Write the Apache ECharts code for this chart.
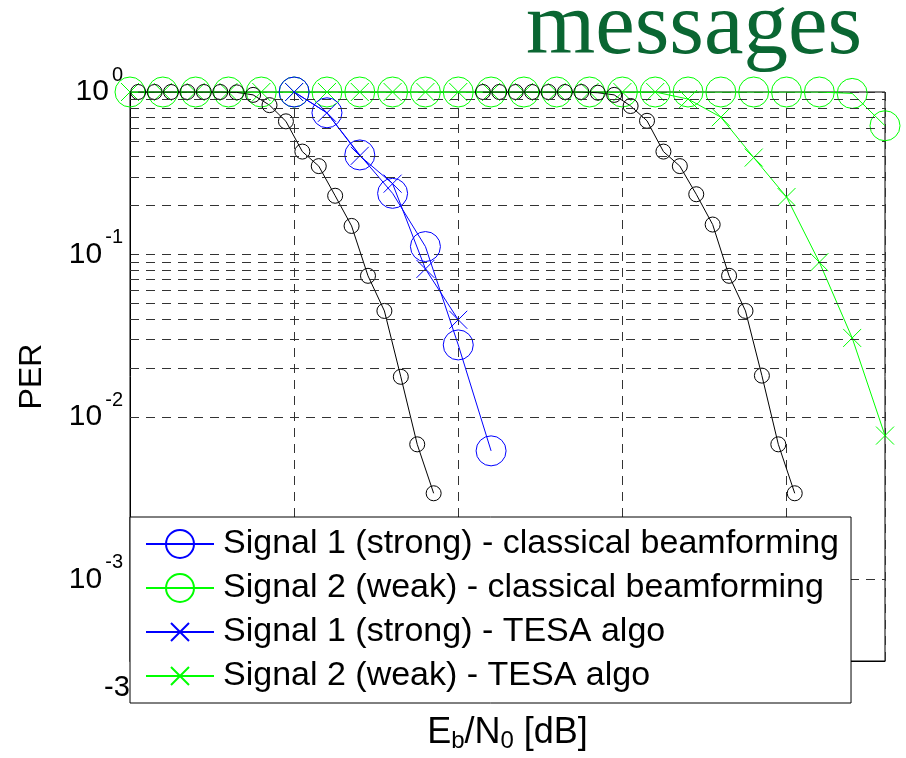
<!DOCTYPE html>
<html>
<head>
<meta charset="utf-8">
<script src="https://cdn.jsdelivr.net/npm/echarts@6/dist/echarts.min.js"></script>
<style>
html, body { margin: 0; padding: 0; background: #fff; }
#chart1 { width: 906px; height: 758px; }
</style>
</head>
<body>
<div id="chart1"></div>
<script>
// Eb/N0 [dB] for the simulated curves (1 dB step)
var ebnoSig1 = [-25, -24, -23, -22, -21, -20, -19];
var ebnoSig1Tesa = [-25, -24, -23, -22, -21, -20];
var ebnoSig2 = [-30, -29, -28, -27, -26, -25, -24, -23, -22, -21, -20, -19,
                -18, -17, -16, -15, -14, -13, -12, -11, -10, -9, -8, -7];

// black reference curves (0.5 dB step)
var ebnoRef1 = [-29.75, -29.25, -28.75, -28.25, -27.75, -27.25, -26.75, -26.25, -25.75, -25.25,
                -24.75, -24.25, -23.75, -23.25, -22.75, -22.25, -21.75, -21.25, -20.75];
var ebnoRef2 = [-19.25, -18.75, -18.25, -17.75, -17.25, -16.75, -16.25, -15.75, -15.25, -14.75,
                -14.25, -13.75, -13.25, -12.75, -12.25, -11.75, -11.25, -10.75, -10.25, -9.75];

var perRef1 = [1, 1, 1, 1, 1, 1, 0.995, 0.96, 0.83, 0.66,
               0.43, 0.35, 0.23, 0.15, 0.074, 0.045, 0.0177, 0.0068, 0.0034];
var perRef2 = [1, 1, 1, 1, 1, 1, 1, 0.99, 0.96, 0.82,
               0.665, 0.43, 0.35, 0.235, 0.153, 0.074, 0.045, 0.018, 0.0068, 0.0034];

var perSig1Classic = [1, 0.745, 0.41, 0.238, 0.112, 0.0278, 0.0062];
var perSig1Tesa = [1, 0.745, 0.405, 0.273, 0.0816, 0.0397];
var perSig2Classic = [1, 1, 1, 1, 1, 1, 1, 1, 1, 1, 1, 1,
                      1, 1, 1, 1, 1, 1, 1, 1, 1, 1, 0.98, 0.62];
var perSig2Tesa = [1, 1, 1, 1, 1, 1, 1, 1, 1, 1, 1, 1,
                   1, 1, 1, 1, 1, 0.905, 0.70, 0.395, 0.226, 0.0897, 0.0307, 0.0077];

// log grid lines between decades
var yMinorGrid = [0.9, 0.8, 0.7, 0.6, 0.5, 0.4, 0.3, 0.2,
                  0.09, 0.08, 0.07, 0.06, 0.05, 0.04, 0.03, 0.02,
                  0.009, 0.008, 0.007, 0.006, 0.005, 0.004, 0.003, 0.002,
                  0.0009, 0.0008, 0.0007, 0.0006, 0.0005, 0.0004];

var legendNames = ['Signal 1 (strong) - classical beamforming',
                   'Signal 2 (weak) - classical beamforming',
                   'Signal 1 (strong) - TESA algo',
                   'Signal 2 (weak) - TESA algo'];

var BLUE = '#0000ff', GREEN = '#00ff00', BLACK = '#000000';
var CROSS = 'path://M0,0M28,28M5,5L23,23M23,5L5,23';
var FONT = 'Liberation Sans';
var GRIDSTYLE = { color: '#333', type: [9, 7], width: 1 };

function pairs(xs, ys) {
    var out = [];
    for (var i = 0; i < xs.length; i++) out.push([xs[i], ys[i]]);
    return out;
}

function lineSeries(name, xs, ys, color, symbol, size) {
    return {
        name: name,
        type: 'line',
        data: pairs(xs, ys),
        symbol: symbol,
        symbolSize: size,
        showAllSymbol: true,
        clip: true,
        lineStyle: { color: color, width: 1 },
        itemStyle: { color: 'transparent', borderColor: color, borderWidth: 1 },
        emphasis: { disabled: true },
        animation: false
    };
}

function gridLines() {
    var d = [];
    for (var i = 0; i < yMinorGrid.length; i++) d.push({ yAxis: yMinorGrid[i] });
    return d;
}

function getChart() {
    var refSeries = lineSeries('ref1', ebnoRef1, perRef1, BLACK, 'circle', 15);
    refSeries.markLine = {
        silent: true,
        symbol: 'none',
        label: { show: false },
        lineStyle: GRIDSTYLE,
        data: gridLines(),
        animation: false
    };
    var option = {
        backgroundColor: '#fff',
        title: {
            text: 'messages',
            left: 526,
            top: -15,
            padding: 0,
            textStyle: { fontFamily: 'Liberation Serif', fontSize: 89, fontWeight: 'normal', color: '#0a6632' }
        },
        grid: {
            left: 130, right: 21, top: 92, bottom: 97,
            show: true, borderColor: '#000', borderWidth: 1, backgroundColor: 'transparent'
        },
        legend: {
            data: legendNames,
            orient: 'vertical',
            left: 130, top: 517,
            padding: [10, 12, 10, 15],
            itemWidth: 68, itemHeight: 35, itemGap: 10,
            backgroundColor: '#fff',
            borderColor: '#000', borderWidth: 1,
            selectedMode: false,
            textStyle: { fontFamily: FONT, fontSize: 34, color: '#000', padding: [0, 0, 0, 4] }
        },
        xAxis: {
            type: 'value',
            min: -30, max: -7, interval: 5,
            name: '{n|E}{s|b}{n|/N}{s|0}{n| [dB]}',
            nameLocation: 'middle',
            nameGap: 52,
            nameTextStyle: {
                rich: {
                    n: { fontFamily: FONT, fontSize: 36, color: '#000' },
                    s: { fontFamily: FONT, fontSize: 24, color: '#000', padding: [16, 0, 0, 0] }
                }
            },
            axisLine: { lineStyle: { color: '#000' } },
            axisTick: { show: false },
            axisLabel: {
                fontFamily: FONT, fontSize: 29, color: '#000', margin: 12,
                padding: [0, 10, 0, 0],
                formatter: function (v) { return v % 5 === 0 ? String(v) : ''; }
            },
            splitLine: { show: true, lineStyle: GRIDSTYLE }
        },
        yAxis: {
            type: 'log',
            logBase: 10,
            min: 0.000316, max: 1,
            name: 'PER',
            nameLocation: 'middle',
            nameGap: 82,
            nameTextStyle: { fontFamily: FONT, fontSize: 32, color: '#000' },
            axisLine: { lineStyle: { color: '#000' } },
            axisTick: { show: false },
            axisLabel: {
                margin: 7,
                formatter: function (v) {
                    var l = Math.log(v) / Math.LN10;
                    var n = Math.round(l);
                    if (Math.abs(l - n) > 1e-6) return '';
                    return '{b|10}{s|' + n + '}';
                },
                rich: {
                    b: { fontFamily: FONT, fontSize: 30, color: '#000' },
                    s: { fontFamily: FONT, fontSize: 20, color: '#000', padding: [0, 0, 34, 3] }
                }
            },
            splitLine: { show: true, lineStyle: GRIDSTYLE }
        },
        series: [
            lineSeries(legendNames[1], ebnoSig2, perSig2Classic, GREEN, 'circle', 30),
            lineSeries(legendNames[3], ebnoSig2, perSig2Tesa, GREEN, CROSS, 28),
            lineSeries(legendNames[0], ebnoSig1, perSig1Classic, BLUE, 'circle', 30),
            lineSeries(legendNames[2], ebnoSig1Tesa, perSig1Tesa, BLUE, CROSS, 28),
            refSeries,
            lineSeries('ref2', ebnoRef2, perRef2, BLACK, 'circle', 15)
        ]
    };
    return option;
}

var myChart = echarts.init(document.getElementById('chart1'), null, { renderer: 'canvas' });
myChart.setOption(getChart());
</script>
</body>
</html>
